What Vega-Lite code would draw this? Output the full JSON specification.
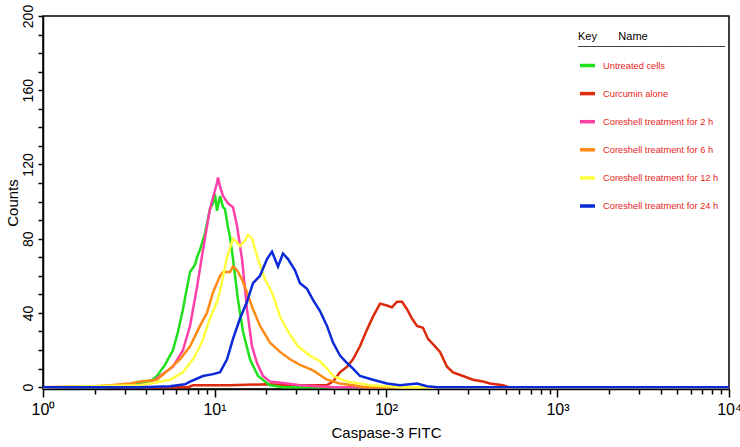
{
  "$schema": "https://vega.github.io/schema/vega-lite/v6.json",
  "width": 686,
  "height": 373,
  "autosize": {"type": "none"},
  "padding": {"left": 43, "top": 16, "right": 11, "bottom": 58},
  "background": "white",
  "config": {
    "view": {"stroke": "black", "strokeWidth": 1.5},
    "font": "Liberation Sans"
  },
  "data": {
    "values": [
      {"series": "Curcumin alone", "fitc": 1, "counts": 0},
      {"series": "Curcumin alone", "fitc": 7, "counts": 0},
      {"series": "Curcumin alone", "fitc": 7.5, "counts": 1},
      {"series": "Curcumin alone", "fitc": 12, "counts": 1},
      {"series": "Curcumin alone", "fitc": 20, "counts": 1.5},
      {"series": "Curcumin alone", "fitc": 30, "counts": 1},
      {"series": "Curcumin alone", "fitc": 45, "counts": 1},
      {"series": "Curcumin alone", "fitc": 49.1, "counts": 3},
      {"series": "Curcumin alone", "fitc": 53.9, "counts": 8},
      {"series": "Curcumin alone", "fitc": 59.3, "counts": 11},
      {"series": "Curcumin alone", "fitc": 64.2, "counts": 15},
      {"series": "Curcumin alone", "fitc": 70.5, "counts": 22},
      {"series": "Curcumin alone", "fitc": 77.5, "counts": 31},
      {"series": "Curcumin alone", "fitc": 84.0, "counts": 38},
      {"series": "Curcumin alone", "fitc": 92.3, "counts": 45},
      {"series": "Curcumin alone", "fitc": 101.3, "counts": 44},
      {"series": "Curcumin alone", "fitc": 108.4, "counts": 43},
      {"series": "Curcumin alone", "fitc": 115.9, "counts": 46},
      {"series": "Curcumin alone", "fitc": 124.0, "counts": 46},
      {"series": "Curcumin alone", "fitc": 132.6, "counts": 42},
      {"series": "Curcumin alone", "fitc": 141.8, "counts": 37},
      {"series": "Curcumin alone", "fitc": 151.6, "counts": 33},
      {"series": "Curcumin alone", "fitc": 164.3, "counts": 32},
      {"series": "Curcumin alone", "fitc": 175.8, "counts": 26},
      {"series": "Curcumin alone", "fitc": 193.1, "counts": 22},
      {"series": "Curcumin alone", "fitc": 206.5, "counts": 19},
      {"series": "Curcumin alone", "fitc": 226.8, "counts": 11},
      {"series": "Curcumin alone", "fitc": 245.9, "counts": 8},
      {"series": "Curcumin alone", "fitc": 281.2, "counts": 6},
      {"series": "Curcumin alone", "fitc": 321.6, "counts": 4},
      {"series": "Curcumin alone", "fitc": 367.8, "counts": 3},
      {"series": "Curcumin alone", "fitc": 404.2, "counts": 2},
      {"series": "Curcumin alone", "fitc": 481.2, "counts": 1},
      {"series": "Curcumin alone", "fitc": 520, "counts": 0},
      {"series": "Curcumin alone", "fitc": 10000, "counts": 0},

      {"series": "Untreated cells", "fitc": 1, "counts": 0},
      {"series": "Untreated cells", "fitc": 2.15, "counts": 0},
      {"series": "Untreated cells", "fitc": 3.22, "counts": 0.5},
      {"series": "Untreated cells", "fitc": 3.68, "counts": 2},
      {"series": "Untreated cells", "fitc": 4.21, "counts": 3},
      {"series": "Untreated cells", "fitc": 4.62, "counts": 6},
      {"series": "Untreated cells", "fitc": 5.14, "counts": 12},
      {"series": "Untreated cells", "fitc": 5.5, "counts": 17},
      {"series": "Untreated cells", "fitc": 5.73, "counts": 20},
      {"series": "Untreated cells", "fitc": 6.13, "counts": 30},
      {"series": "Untreated cells", "fitc": 6.55, "counts": 42},
      {"series": "Untreated cells", "fitc": 6.73, "counts": 48},
      {"series": "Untreated cells", "fitc": 7.2, "counts": 62},
      {"series": "Untreated cells", "fitc": 7.7, "counts": 66},
      {"series": "Untreated cells", "fitc": 7.91, "counts": 70},
      {"series": "Untreated cells", "fitc": 8.23, "counts": 74},
      {"series": "Untreated cells", "fitc": 8.8, "counts": 83},
      {"series": "Untreated cells", "fitc": 9.41, "counts": 96},
      {"series": "Untreated cells", "fitc": 9.8, "counts": 99},
      {"series": "Untreated cells", "fitc": 10.07, "counts": 104},
      {"series": "Untreated cells", "fitc": 10.34, "counts": 95},
      {"series": "Untreated cells", "fitc": 10.77, "counts": 103},
      {"series": "Untreated cells", "fitc": 11.21, "counts": 97},
      {"series": "Untreated cells", "fitc": 11.51, "counts": 96},
      {"series": "Untreated cells", "fitc": 11.99, "counts": 86},
      {"series": "Untreated cells", "fitc": 12.31, "counts": 81},
      {"series": "Untreated cells", "fitc": 12.82, "counts": 69},
      {"series": "Untreated cells", "fitc": 13.71, "counts": 47},
      {"series": "Untreated cells", "fitc": 14.66, "counts": 30},
      {"series": "Untreated cells", "fitc": 16.11, "counts": 15},
      {"series": "Untreated cells", "fitc": 17.94, "counts": 6},
      {"series": "Untreated cells", "fitc": 19.71, "counts": 3},
      {"series": "Untreated cells", "fitc": 21.07, "counts": 1},
      {"series": "Untreated cells", "fitc": 23, "counts": 0.5},
      {"series": "Untreated cells", "fitc": 25, "counts": 0},
      {"series": "Untreated cells", "fitc": 10000, "counts": 0},

      {"series": "Coreshell treatment for 2 h", "fitc": 1, "counts": 0},
      {"series": "Coreshell treatment for 2 h", "fitc": 3.22, "counts": 0.5},
      {"series": "Coreshell treatment for 2 h", "fitc": 4.21, "counts": 2},
      {"series": "Coreshell treatment for 2 h", "fitc": 4.81, "counts": 6},
      {"series": "Coreshell treatment for 2 h", "fitc": 5.73, "counts": 11},
      {"series": "Coreshell treatment for 2 h", "fitc": 6.55, "counts": 20},
      {"series": "Coreshell treatment for 2 h", "fitc": 7.2, "counts": 33},
      {"series": "Coreshell treatment for 2 h", "fitc": 7.91, "counts": 54},
      {"series": "Coreshell treatment for 2 h", "fitc": 8.57, "counts": 74},
      {"series": "Coreshell treatment for 2 h", "fitc": 9.41, "counts": 96},
      {"series": "Coreshell treatment for 2 h", "fitc": 10.34, "counts": 110},
      {"series": "Coreshell treatment for 2 h", "fitc": 10.48, "counts": 113},
      {"series": "Coreshell treatment for 2 h", "fitc": 10.77, "counts": 108},
      {"series": "Coreshell treatment for 2 h", "fitc": 11.21, "counts": 103},
      {"series": "Coreshell treatment for 2 h", "fitc": 11.99, "counts": 99},
      {"series": "Coreshell treatment for 2 h", "fitc": 12.82, "counts": 97},
      {"series": "Coreshell treatment for 2 h", "fitc": 13.53, "counts": 87},
      {"series": "Coreshell treatment for 2 h", "fitc": 14.47, "counts": 69},
      {"series": "Coreshell treatment for 2 h", "fitc": 15.47, "counts": 42},
      {"series": "Coreshell treatment for 2 h", "fitc": 16.55, "counts": 22},
      {"series": "Coreshell treatment for 2 h", "fitc": 17.69, "counts": 13},
      {"series": "Coreshell treatment for 2 h", "fitc": 19.18, "counts": 6},
      {"series": "Coreshell treatment for 2 h", "fitc": 21.07, "counts": 3},
      {"series": "Coreshell treatment for 2 h", "fitc": 26.47, "counts": 2},
      {"series": "Coreshell treatment for 2 h", "fitc": 31.52, "counts": 1},
      {"series": "Coreshell treatment for 2 h", "fitc": 40, "counts": 0.5},
      {"series": "Coreshell treatment for 2 h", "fitc": 50, "counts": 0},
      {"series": "Coreshell treatment for 2 h", "fitc": 10000, "counts": 0},

      {"series": "Coreshell treatment for 6 h", "fitc": 1, "counts": 0},
      {"series": "Coreshell treatment for 6 h", "fitc": 2.0, "counts": 0.5},
      {"series": "Coreshell treatment for 6 h", "fitc": 2.46, "counts": 1},
      {"series": "Coreshell treatment for 6 h", "fitc": 3.22, "counts": 2},
      {"series": "Coreshell treatment for 6 h", "fitc": 3.68, "counts": 3},
      {"series": "Coreshell treatment for 6 h", "fitc": 4.62, "counts": 4},
      {"series": "Coreshell treatment for 6 h", "fitc": 5.5, "counts": 10},
      {"series": "Coreshell treatment for 6 h", "fitc": 6.29, "counts": 15},
      {"series": "Coreshell treatment for 6 h", "fitc": 7.2, "counts": 22},
      {"series": "Coreshell treatment for 6 h", "fitc": 8.23, "counts": 33},
      {"series": "Coreshell treatment for 6 h", "fitc": 9.04, "counts": 40},
      {"series": "Coreshell treatment for 6 h", "fitc": 9.8, "counts": 51},
      {"series": "Coreshell treatment for 6 h", "fitc": 10.77, "counts": 60},
      {"series": "Coreshell treatment for 6 h", "fitc": 11.21, "counts": 62},
      {"series": "Coreshell treatment for 6 h", "fitc": 12.31, "counts": 62},
      {"series": "Coreshell treatment for 6 h", "fitc": 12.82, "counts": 65},
      {"series": "Coreshell treatment for 6 h", "fitc": 13.53, "counts": 63},
      {"series": "Coreshell treatment for 6 h", "fitc": 14.47, "counts": 58},
      {"series": "Coreshell treatment for 6 h", "fitc": 15.47, "counts": 51},
      {"series": "Coreshell treatment for 6 h", "fitc": 16.77, "counts": 42},
      {"series": "Coreshell treatment for 6 h", "fitc": 18.42, "counts": 33},
      {"series": "Coreshell treatment for 6 h", "fitc": 21.07, "counts": 24},
      {"series": "Coreshell treatment for 6 h", "fitc": 24.1, "counts": 19},
      {"series": "Coreshell treatment for 6 h", "fitc": 27.56, "counts": 15},
      {"series": "Coreshell treatment for 6 h", "fitc": 31.52, "counts": 12},
      {"series": "Coreshell treatment for 6 h", "fitc": 37.53, "counts": 9},
      {"series": "Coreshell treatment for 6 h", "fitc": 45.29, "counts": 4},
      {"series": "Coreshell treatment for 6 h", "fitc": 53.93, "counts": 2},
      {"series": "Coreshell treatment for 6 h", "fitc": 64.21, "counts": 1},
      {"series": "Coreshell treatment for 6 h", "fitc": 75, "counts": 0},
      {"series": "Coreshell treatment for 6 h", "fitc": 10000, "counts": 0},

      {"series": "Coreshell treatment for 12 h", "fitc": 1, "counts": 0},
      {"series": "Coreshell treatment for 12 h", "fitc": 3.68, "counts": 1},
      {"series": "Coreshell treatment for 12 h", "fitc": 4.21, "counts": 2},
      {"series": "Coreshell treatment for 12 h", "fitc": 5.5, "counts": 4},
      {"series": "Coreshell treatment for 12 h", "fitc": 6.55, "counts": 8},
      {"series": "Coreshell treatment for 12 h", "fitc": 7.49, "counts": 15},
      {"series": "Coreshell treatment for 12 h", "fitc": 8.23, "counts": 22},
      {"series": "Coreshell treatment for 12 h", "fitc": 8.57, "counts": 26},
      {"series": "Coreshell treatment for 12 h", "fitc": 9.41, "counts": 37},
      {"series": "Coreshell treatment for 12 h", "fitc": 10.34, "counts": 46},
      {"series": "Coreshell treatment for 12 h", "fitc": 10.77, "counts": 52},
      {"series": "Coreshell treatment for 12 h", "fitc": 11.83, "counts": 70},
      {"series": "Coreshell treatment for 12 h", "fitc": 12.82, "counts": 80},
      {"series": "Coreshell treatment for 12 h", "fitc": 13.53, "counts": 78},
      {"series": "Coreshell treatment for 12 h", "fitc": 14.08, "counts": 76},
      {"series": "Coreshell treatment for 12 h", "fitc": 15.06, "counts": 79},
      {"series": "Coreshell treatment for 12 h", "fitc": 15.68, "counts": 82},
      {"series": "Coreshell treatment for 12 h", "fitc": 16.55, "counts": 80},
      {"series": "Coreshell treatment for 12 h", "fitc": 17.94, "counts": 69},
      {"series": "Coreshell treatment for 12 h", "fitc": 19.71, "counts": 58},
      {"series": "Coreshell treatment for 12 h", "fitc": 21.64, "counts": 51},
      {"series": "Coreshell treatment for 12 h", "fitc": 24.1, "counts": 38},
      {"series": "Coreshell treatment for 12 h", "fitc": 26.83, "counts": 30},
      {"series": "Coreshell treatment for 12 h", "fitc": 30.69, "counts": 22},
      {"series": "Coreshell treatment for 12 h", "fitc": 36.06, "counts": 17},
      {"series": "Coreshell treatment for 12 h", "fitc": 41.23, "counts": 14},
      {"series": "Coreshell treatment for 12 h", "fitc": 45.29, "counts": 10},
      {"series": "Coreshell treatment for 12 h", "fitc": 49.1, "counts": 6},
      {"series": "Coreshell treatment for 12 h", "fitc": 59.26, "counts": 3},
      {"series": "Coreshell treatment for 12 h", "fitc": 80.66, "counts": 1},
      {"series": "Coreshell treatment for 12 h", "fitc": 101, "counts": 0.5},
      {"series": "Coreshell treatment for 12 h", "fitc": 120, "counts": 0},
      {"series": "Coreshell treatment for 12 h", "fitc": 10000, "counts": 0},

      {"series": "Coreshell treatment for 24 h", "fitc": 1, "counts": 0},
      {"series": "Coreshell treatment for 24 h", "fitc": 3.68, "counts": 0},
      {"series": "Coreshell treatment for 24 h", "fitc": 5.5, "counts": 0.5},
      {"series": "Coreshell treatment for 24 h", "fitc": 6.73, "counts": 1.5},
      {"series": "Coreshell treatment for 24 h", "fitc": 7.2, "counts": 3},
      {"series": "Coreshell treatment for 24 h", "fitc": 8.57, "counts": 6},
      {"series": "Coreshell treatment for 24 h", "fitc": 9.8, "counts": 7},
      {"series": "Coreshell treatment for 24 h", "fitc": 10.77, "counts": 8},
      {"series": "Coreshell treatment for 24 h", "fitc": 11.83, "counts": 15},
      {"series": "Coreshell treatment for 24 h", "fitc": 12.82, "counts": 26},
      {"series": "Coreshell treatment for 24 h", "fitc": 14.08, "counts": 37},
      {"series": "Coreshell treatment for 24 h", "fitc": 15.47, "counts": 46},
      {"series": "Coreshell treatment for 24 h", "fitc": 16.77, "counts": 56},
      {"series": "Coreshell treatment for 24 h", "fitc": 18.42, "counts": 60},
      {"series": "Coreshell treatment for 24 h", "fitc": 20.24, "counts": 69},
      {"series": "Coreshell treatment for 24 h", "fitc": 21.64, "counts": 73},
      {"series": "Coreshell treatment for 24 h", "fitc": 23.46, "counts": 65},
      {"series": "Coreshell treatment for 24 h", "fitc": 25.08, "counts": 72},
      {"series": "Coreshell treatment for 24 h", "fitc": 26.83, "counts": 69},
      {"series": "Coreshell treatment for 24 h", "fitc": 29.48, "counts": 63},
      {"series": "Coreshell treatment for 24 h", "fitc": 31.52, "counts": 56},
      {"series": "Coreshell treatment for 24 h", "fitc": 34.63, "counts": 53},
      {"series": "Coreshell treatment for 24 h", "fitc": 37.53, "counts": 47},
      {"series": "Coreshell treatment for 24 h", "fitc": 41.23, "counts": 41},
      {"series": "Coreshell treatment for 24 h", "fitc": 45.29, "counts": 33},
      {"series": "Coreshell treatment for 24 h", "fitc": 49.1, "counts": 24},
      {"series": "Coreshell treatment for 24 h", "fitc": 53.93, "counts": 17},
      {"series": "Coreshell treatment for 24 h", "fitc": 59.26, "counts": 13},
      {"series": "Coreshell treatment for 24 h", "fitc": 64.21, "counts": 10},
      {"series": "Coreshell treatment for 24 h", "fitc": 70.53, "counts": 6},
      {"series": "Coreshell treatment for 24 h", "fitc": 83.96, "counts": 4},
      {"series": "Coreshell treatment for 24 h", "fitc": 101.3, "counts": 2},
      {"series": "Coreshell treatment for 24 h", "fitc": 120.7, "counts": 1},
      {"series": "Coreshell treatment for 24 h", "fitc": 151.6, "counts": 2},
      {"series": "Coreshell treatment for 24 h", "fitc": 173.4, "counts": 0.5},
      {"series": "Coreshell treatment for 24 h", "fitc": 200, "counts": 0},
      {"series": "Coreshell treatment for 24 h", "fitc": 10000, "counts": 0}
    ]
  },
  "mark": {"type": "line", "strokeWidth": 2.5, "interpolate": "linear", "clip": true},
  "encoding": {
    "x": {
      "field": "fitc",
      "type": "quantitative",
      "scale": {"type": "log", "domain": [1, 10000], "nice": false},
      "axis": {
        "title": "Caspase-3 FITC",
        "titleFont": "Liberation Sans",
        "titleFontSize": 15,
        "titleFontWeight": "normal",
        "titleColor": "black",
        "titlePadding": 8,
        "values": [1,2,3,4,5,6,7,8,9,10,20,30,40,50,60,70,80,90,100,200,300,400,500,600,700,800,900,1000,2000,3000,4000,5000,6000,7000,8000,9000,10000],
        "labelExpr": "datum.value == 1 ? '10⁰' : datum.value == 10 ? '10¹' : datum.value == 100 ? '10²' : datum.value == 1000 ? '10³' : datum.value == 10000 ? '10⁴' : ''",
        "labelFont": "Liberation Sans",
        "labelFontSize": 16,
        "labelColor": "black",
        "labelPadding": 4,
        "labelOverlap": false,
        "labelFlush": false,
        "grid": false,
        "domainColor": "black",
        "domainWidth": 1.5,
        "tickColor": "black",
        "tickWidth": 1.5,
        "tickSize": {"condition": {"test": "datum.value == 1 || datum.value == 10 || datum.value == 100 || datum.value == 1000 || datum.value == 10000", "value": 8}, "value": 5}
      }
    },
    "y": {
      "field": "counts",
      "type": "quantitative",
      "scale": {"domain": [-1, 200], "nice": false, "zero": false},
      "axis": {
        "title": "Counts",
        "titleFont": "Liberation Sans",
        "titleFontSize": 15,
        "titleFontWeight": "normal",
        "titleColor": "black",
        "titlePadding": 1,
        "values": [0,10,20,30,40,50,60,70,80,90,100,110,120,130,140,150,160,170,180,190,200],
        "labelExpr": "datum.value % 40 == 0 ? datum.label : ''",
        "labelAngle": -90,
        "labelFont": "Liberation Sans",
        "labelFontSize": 14,
        "labelColor": "black",
        "labelPadding": 3,
        "labelOverlap": false,
        "labelFlush": false,
        "grid": false,
        "domainColor": "black",
        "domainWidth": 1.5,
        "tickColor": "black",
        "tickWidth": 1.5,
        "tickSize": 5
      }
    },
    "color": {
      "field": "series",
      "type": "nominal",
      "scale": {
        "domain": ["Untreated cells", "Curcumin alone", "Coreshell treatment for 2 h", "Coreshell treatment for 6 h", "Coreshell treatment for 12 h", "Coreshell treatment for 24 h"],
        "range": ["#1fe01a", "#dc2a0c", "#ff40a8", "#ff8a14", "#ffff40", "#0a2ad8"]
      },
      "legend": {
        "orient": "none",
        "legendX": 535,
        "legendY": 15,
        "title": ["Key\u00a0\u00a0\u00a0\u00a0\u00a0\u00a0\u00a0Name", "________________________"],
        "titleFont": "Liberation Sans",
        "titleFontSize": 11,
        "titleLineHeight": 5,
        "titleFontWeight": "normal",
        "titleColor": "black",
        "titlePadding": 9,
        "symbolType": "stroke",
        "symbolSize": 225,
        "symbolStrokeWidth": 3.5,
        "labelFont": "Liberation Sans",
        "labelFontSize": 9.3,
        "labelColor": "#e8231b",
        "labelOffset": 6,
        "rowPadding": 11.1,
        "padding": 0
      }
    }
  }
}
